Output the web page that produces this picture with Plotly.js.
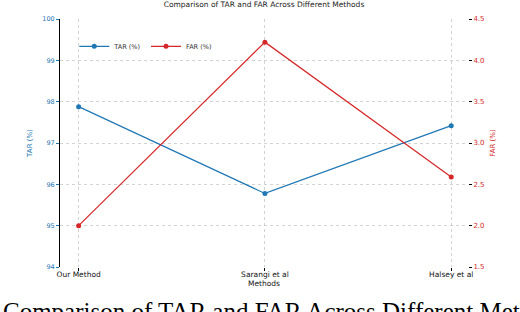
<!DOCTYPE html>
<html><head><meta charset="utf-8">
<script src="https://cdn.plot.ly/plotly-3.0.1.min.js"></script>
<style>html,body{margin:0;padding:0;background:#fff}</style>
</head><body>
<div id="chart" style="width:520px;height:312px"></div>
<script>
const methods = ["Our Method", "Sarangi et al", "Halsey et al"];
const tar = [97.88, 95.78, 97.42];
const far = [2.0, 4.22, 2.59];
const leftTicks = [94, 95, 96, 97, 98, 99, 100];
const rightTicks = [1.5, 2.0, 2.5, 3.0, 3.5, 4.0, 4.5];
const blue = "#1f77b4", red = "#d62728";
const f = "DejaVu Sans, sans-serif";

const traces = [
  {x: [0,1,2], y: tar, name: "TAR (%)", type: "scatter", mode: "lines+markers",
   line: {color: blue, width: 1.2}, marker: {color: blue, size: 5}, yaxis: "y"},
  {x: [0,1,2], y: far, name: "FAR (%)", type: "scatter", mode: "lines+markers",
   line: {color: red, width: 1.2}, marker: {color: red, size: 5}, yaxis: "y2"}
];
const layout = {
  width: 520, height: 312,
  margin: {l: 60, r: 52, t: 19, b: 45},
  paper_bgcolor: "#fff", plot_bgcolor: "#fff",
  font: {family: f, size: 7, color: "#222"},
  showlegend: true,
  legend: {x: 0.035, y: 0.89, xanchor: "left", yanchor: "middle", orientation: "h",
           font: {size: 6.5, color: "#333"}, bgcolor: "rgba(0,0,0,0)"},
  title: {text: "Comparison of TAR and FAR Across Different Methods", x: 0.5, xref: "paper",
          y: 0.985, yanchor: "middle", font: {size: 7.5, color: "#222"}},
  xaxis: {range: [-0.1, 2.09], tickvals: [0,1,2], ticktext: methods,
          showgrid: true, gridcolor: "#c8c8c8", griddash: "dot", gridwidth: 0.8,
          ticks: "outside", ticklen: 3, tickcolor: "#000", zeroline: false, showline: false,
          tickfont: {size: 7.5, color: "#111"}, ticklabelstandoff: -3,
          title: {text: "Methods", font: {size: 7.5, color: "#111"}, standoff: 0}},
  yaxis: {range: [94, 100], tickvals: leftTicks, ticktext: leftTicks.map(String),
          showgrid: true, gridcolor: "#c8c8c8", griddash: "dot", gridwidth: 0.8,
          showline: true, linecolor: "#000", linewidth: 1, ticks: "outside", ticklen: 3,
          tickcolor: blue, zeroline: false, tickfont: {size: 6.5, color: blue},
          title: {text: "TAR (%)", font: {size: 7, color: blue}, standoff: 8}},
  yaxis2: {range: [1.5, 4.5], overlaying: "y", side: "right", tickvals: rightTicks,
           ticktext: rightTicks.map(v => v.toFixed(1)), showgrid: false, showline: false,
           ticks: "outside", ticklen: 3, tickcolor: "#000", zeroline: false,
           tickfont: {size: 7, color: red},
           title: {text: "FAR (%)", font: {size: 7, color: red}, standoff: 6}},
  annotations: [{text: "Comparison of TAR and FAR Across Different Methods", xref: "paper", yref: "paper",
                 x: 0, xshift: -59, y: 0, yshift: -29, xanchor: "left", yanchor: "top", showarrow: false,
                 font: {family: "Liberation Serif, serif", size: 25, color: "#000"}}]
};
Plotly.newPlot("chart", traces, layout, {displayModeBar: false, staticPlot: true});
</script>
</body></html>
